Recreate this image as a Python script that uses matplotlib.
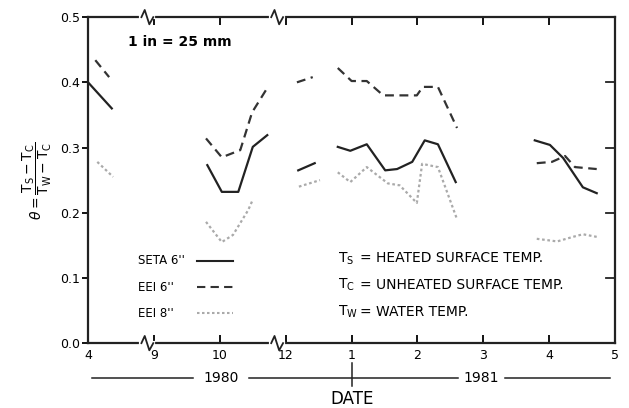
import numpy as np
import matplotlib
matplotlib.use('Agg')
import matplotlib.pyplot as plt
import matplotlib.transforms as mtransforms

nan = np.nan

# x = position on the broken date axis (one unit per labelled tick)
tick_labels = ['4', '9', '10', '12', '1', '2', '3', '4', '5']

x_seta = [0.0, 0.36, nan, 1.81, 2.03, 2.28, 2.50, 2.72, nan, 3.19, 3.44, nan,
          3.79, 3.98, 4.23, 4.51, 4.69, 4.92, 5.11, 5.31, 5.58, nan,
          6.78, 7.01, 7.21, 7.51, 7.72]
y_seta = [0.40, 0.36, nan, 0.273, 0.232, 0.232, 0.301, 0.319, nan, 0.265, 0.276, nan,
          0.301, 0.295, 0.305, 0.265, 0.267, 0.278, 0.311, 0.305, 0.247, nan,
          0.311, 0.304, 0.284, 0.239, 0.230]

x_eei6 = [0.11, 0.32, nan, 1.79, 2.03, 2.31, 2.49, 2.73, nan, 3.17, 3.41, nan,
          3.79, 4.0, 4.23, 4.48, 4.99, 5.08, 5.31, 5.60, nan,
          6.81, 7.04, 7.24, 7.39, 7.72]
y_eei6 = [0.434, 0.408, nan, 0.314, 0.285, 0.296, 0.354, 0.393, nan, 0.400, 0.408, nan,
          0.422, 0.402, 0.402, 0.380, 0.380, 0.393, 0.393, 0.330, nan,
          0.276, 0.278, 0.287, 0.270, 0.267]

x_eei8 = [0.14, 0.38, nan, 1.79, 2.03, 2.20, 2.43, 2.50, nan, 3.20, 3.52, nan,
          3.79, 3.98, 4.23, 4.55, 4.73, 4.99, 5.07, 5.31, 5.60, nan,
          6.81, 7.12, 7.36, 7.51, 7.72]
y_eei8 = [0.278, 0.255, nan, 0.186, 0.155, 0.166, 0.204, 0.220, nan, 0.240, 0.250, nan,
          0.262, 0.247, 0.270, 0.245, 0.242, 0.215, 0.275, 0.270, 0.190, nan,
          0.160, 0.156, 0.163, 0.167, 0.163]

breaks = [0.9, 2.87]

fig = plt.figure(figsize=(6.29, 4.08), dpi=100)
ax = fig.add_axes([0.140, 0.159, 0.838, 0.799])

ax.plot(x_seta, y_seta, '-', color='#222222', lw=1.6)
ax.plot(x_eei6, y_eei6, color='#333333', lw=1.6, dashes=(4, 2.5))
ax.plot(x_eei8, y_eei8, color='#aaaaaa', lw=1.6, dashes=(1.2, 1.2))

ax.set_xlim(0, 8)
ax.set_ylim(0, 0.5)
ax.set_xticks(range(9))
ax.set_xticklabels(tick_labels, fontsize=9)
ax.set_yticks([0, 0.1, 0.2, 0.3, 0.4, 0.5])
ax.set_yticklabels(['0.0', '0.1', '0.2', '0.3', '0.4', '0.5'], fontsize=9)
for s in ax.spines.values():
    s.set_linewidth(1.6)
    s.set_color('#222222')
ax.tick_params(axis='x', which='both', direction='in', length=6, width=1.3,
               top=True, bottom=True, pad=4)
ax.tick_params(axis='y', direction='out', length=4, width=1.3, pad=2)
# right side ticks point inward
for yv in [0.1, 0.2, 0.3, 0.4]:
    ax.plot([7.86, 8.0], [yv, yv], color='#222222', lw=1.3, clip_on=False)

# axis breaks
trans = mtransforms.blended_transform_factory(ax.transData, ax.transAxes)
for xb in breaks:
    for yb in [0.0, 1.0]:
        ax.plot([xb - 0.09, xb + 0.09], [yb, yb], color='white', lw=3,
                transform=trans, clip_on=False, zorder=5)
        zx = [xb - 0.09, xb - 0.04, xb + 0.03, xb + 0.09]
        zy = [yb, yb + 0.022, yb - 0.022, yb]
        ax.plot(zx, zy, color='#222222', lw=1.3, transform=trans,
                clip_on=False, zorder=6)

ax.set_ylabel(r'$\theta = \dfrac{\mathregular{T_S - T_C}}{\mathregular{T_W - T_C}}$',
              fontsize=10, labelpad=4)

ax.text(0.6, 0.456, '1 in = 25 mm', fontsize=10, fontweight='bold')

# legend drawn by hand
leg = [('SETA 6\'\'', dict(ls='-', color='#222222')),
       ('EEI 6\'\'', dict(color='#333333', dashes=(4, 2.5))),
       ('EEI 8\'\'', dict(color='#aaaaaa', dashes=(1.2, 1.2)))]
for i, (lab, st) in enumerate(leg):
    yy = 0.126 - i * 0.04
    ax.text(0.76, yy, lab, fontsize=8.5, va='center')
    ax.plot([1.66, 2.2], [yy, yy], lw=1.5, **st)

defs = [('$\\mathregular{T_S}$', '= HEATED SURFACE TEMP.'),
        ('$\\mathregular{T_C}$', '= UNHEATED SURFACE TEMP.'),
        ('$\\mathregular{T_W}$', '= WATER TEMP.')]
for i, (sym, txt) in enumerate(defs):
    yy = 0.13 - i * 0.041
    ax.text(3.8, yy, sym, fontsize=10, va='center')
    ax.text(4.12, yy, txt, fontsize=10, va='center')

# year bar below the axis
ybar = -0.054
ax.plot([0.06, 1.6], [ybar, ybar], color='#222222', lw=1.1, clip_on=False)
ax.plot([2.45, 5.62], [ybar, ybar], color='#222222', lw=1.1, clip_on=False)
ax.plot([6.33, 7.92], [ybar, ybar], color='#222222', lw=1.1, clip_on=False)
ax.plot([4.0, 4.0], [-0.031, -0.066], color='#222222', lw=1.1, clip_on=False)
ax.text(2.02, ybar, '1980', fontsize=10, ha='center', va='center')
ax.text(5.97, ybar, '1981', fontsize=10, ha='center', va='center')
ax.text(4.0, -0.085, 'DATE', fontsize=12, ha='center', va='center')

plt.savefig('out.png', dpi=100)
